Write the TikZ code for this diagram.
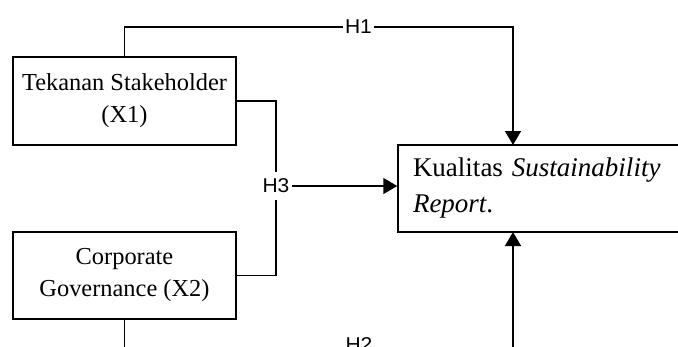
\documentclass[tikz,border=0pt]{standalone}
\usepackage{fontspec}
\setmainfont{Liberation Serif}
\newfontfamily\hlabelfont{Liberation Sans}
\usepackage{graphicx}
\usetikzlibrary{arrows.meta,calc}
\begin{document}
\begin{tikzpicture}[x=1pt,y=-1pt, line width=1.5pt,
  varbox/.style={draw, rectangle, inner sep=0pt, align=center, minimum width=223pt, font=\fontsize{24.4}{32}\selectfont},
  hlab/.style={font=\hlabelfont\fontsize{20}{20}\selectfont, fill=white, inner xsep=1.5pt, inner ysep=2pt},
  arr/.style={-{Triangle[width=16pt,length=14pt]}}]
\useasboundingbox (0,0) rectangle (678,346);
\clip (0,0) rectangle (678,346);
\node[varbox, minimum height=88pt] (x1) at (124.5,101) {Tekanan Stakeholder\\(X1)};
\node[varbox, minimum height=87pt] (x2) at (124.5,275.5) {Corporate\\Governance (X2)};
\node[draw, rectangle, inner sep=0pt, minimum width=302pt, minimum height=87pt, text width=272pt, align=left,
  font=\fontsize{27}{36}\selectfont] (kr) at (549,188.5) {Kualitas \textit{Sustainability}\\\textit{Report}.};
\coordinate (kt) at (513,145);
\coordinate (kb) at (513,232);
% labels
\node[hlab] (h1) at (358.5,27) {\scalebox{1.05}[1]{H1}};
\node[hlab, inner ysep=6pt, inner xsep=2pt] (h3) at (276,186) {\scalebox{1.05}[1]{H3}};
\node[hlab] (h2) at (359,345) {\scalebox{1.05}[1]{H2}};
\coordinate (h2b) at (359,360);
% H1
\draw (x1.north) |- (h1.west);
\draw[arr] (h1.east) -| (kt);
% H3
\draw (x1.east) -| (h3.north);
\draw (h3.south) |- (x2.east);
\draw[arr] (h3.east) -- (h3.east -| kr.west);
% H2
\draw[arr] (x2.south) |- (h2b) -| (kb);
\end{tikzpicture}
\end{document}
